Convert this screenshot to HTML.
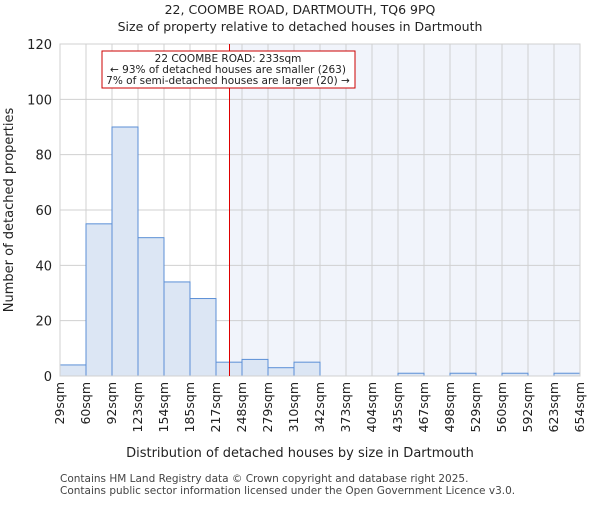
<!DOCTYPE html>
<html><head><meta charset="utf-8"><style>body{margin:0;background:#fff}svg{font-family:"DejaVu Sans","Liberation Sans",sans-serif}</style></head>
<body>
<svg id="c" width="600" height="500"></svg>
<script>
const edges=[29,60,92,123,154,185,217,248,279,310,342,373,404,435,467,498,529,560,592,623,654];
const counts=[4,55,90,50,34,28,5,6,3,5,0,0,0,1,0,1,0,1,0,1];
const yTicks=[0,20,40,60,80,100,120];
const marker=233;
const L=60,R=580,T=44,B=376,yMax=120;
const n=counts.length;
const xi=i=>L+(R-L)*i/n;
const xv=v=>{for(let i=0;i<n;i++){if(v<=edges[i+1])return xi(i)+(v-edges[i])/(edges[i+1]-edges[i])*(R-L)/n;}return R;};
const y=v=>B-(B-T)*v/yMax;
const s=document.getElementById('c');const NS='http://www.w3.org/2000/svg';
function el(t,a,p){const e=document.createElementNS(NS,t);for(const k in a)e.setAttribute(k,a[k]);(p||s).appendChild(e);return e;}
function tx(str,a){const e=el('text',a);e.textContent=str;return e;}
const mx=Math.round(xv(marker))+0.5;
let r=el('rect',{x:mx,y:T,width:R-mx,height:B-T,fill:'#f1f4fb'});

for(let i=0;i<=n;i++){let g=el('line',{x1:xi(i),x2:xi(i),y1:T,y2:B,stroke:'#d0d0d0'});}
yTicks.forEach(v=>{let g=el('line',{x1:L,x2:R,y1:y(v),y2:y(v),stroke:'#d0d0d0'});
let t=tx(v,{x:L-8,y:y(v)+5,'text-anchor':'end','font-size':13,fill:'#222'});});
counts.forEach((c,i)=>{if(c<=0)return;let b=el('rect',{x:xi(i),y:y(c),width:(R-L)/n,height:B-y(c),fill:'#dce6f4',stroke:'#5b8fd6','stroke-width':1});});
let ax=el('rect',{x:L,y:T,width:R-L,height:B-T,fill:'none',stroke:'#d0d0d0'});
let ml=el('line',{x1:mx,x2:mx,y1:T,y2:B,stroke:'#dd0000','stroke-width':1});
edges.forEach((e,i)=>{let t=tx(e+'sqm',{transform:`translate(${xi(i)+4},${B+6}) rotate(-90)`,'text-anchor':'end','font-size':12.5,fill:'#222'});});
let bx=el('rect',{x:102,y:51,width:253,height:37,fill:'#fff',stroke:'#cc0000'});
[['22 COOMBE ROAD: 233sqm',62],['← 93% of detached houses are smaller (263)',73],['7% of semi-detached houses are larger (20) →',84]].forEach(a=>{let t=tx(a[0],{x:228,y:a[1],'text-anchor':'middle','font-size':10.5,fill:'#222'});});
let t1=tx('22, COOMBE ROAD, DARTMOUTH, TQ6 9PQ',{x:300,y:14,'text-anchor':'middle','font-size':12.5,fill:'#222'});
let t2=tx('Size of property relative to detached houses in Dartmouth',{x:300,y:31,'text-anchor':'middle','font-size':12.5,fill:'#222'});
let xt=tx('Distribution of detached houses by size in Dartmouth',{x:300,y:457,'text-anchor':'middle','font-size':13,fill:'#222'});
let yt=tx('Number of detached properties',{transform:'translate(13,210) rotate(-90)','text-anchor':'middle','font-size':13,fill:'#222'});
let f1=tx('Contains HM Land Registry data © Crown copyright and database right 2025.',{x:60,y:482,'font-size':10.5,fill:'#444'});
let f2=tx('Contains public sector information licensed under the Open Government Licence v3.0.',{x:60,y:494,'font-size':10.5,fill:'#444'});
</script>
</body></html>
